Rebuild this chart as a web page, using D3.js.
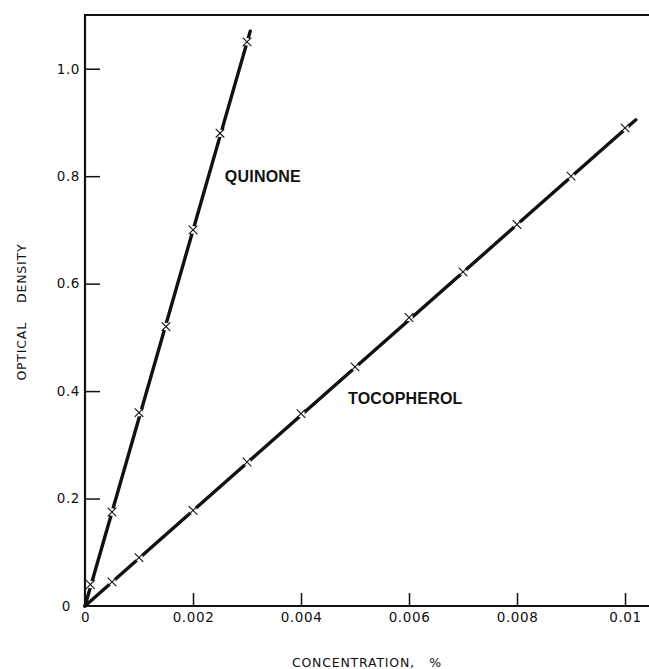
<!DOCTYPE html>
<html>
<head>
<meta charset="utf-8">
<script src="https://cdn.jsdelivr.net/npm/d3@7"></script>
<style>
  body { margin: 0; background: #fff; }
  svg { display: block; font-family: "DejaVu Sans", sans-serif; }
  .tick text { font-family: "DejaVu Sans", sans-serif; font-size: 13.5px; fill: #111; letter-spacing: 0.6px; }
  .curve-label { font-family: "Liberation Sans", sans-serif; font-size: 16px; font-weight: bold; fill: #111; letter-spacing: 0.2px; }
  .axis-title { font-family: "DejaVu Sans", sans-serif; font-size: 12.5px; fill: #111; letter-spacing: 0.8px; }
</style>
</head>
<body>
<script>
// data
const quinoneX = [0.0001, 0.0005, 0.001, 0.0015, 0.002, 0.0025, 0.003];
const quinoneY = [0.04, 0.175, 0.36, 0.52, 0.70, 0.88, 1.05];
const tocoX = [0.0005, 0.001, 0.002, 0.003, 0.004, 0.005, 0.006, 0.007, 0.008, 0.009, 0.01];
const tocoY = [0.045, 0.09, 0.178, 0.268, 0.358, 0.445, 0.537, 0.622, 0.71, 0.80, 0.89];
// drawn fit lines (start / end)
const quinoneFit = [[0, 0], [0.00306, 1.07]];
const tocoFit = [[0, 0], [0.0102, 0.905]];

const xTicks = [0, 0.002, 0.004, 0.006, 0.008, 0.01];
const xTickLabels = ["0", "0.002", "0.004", "0.006", "0.008", "0.01"];
const yTicks = [0, 0.2, 0.4, 0.6, 0.8, 1.0];
const yTickLabels = ["0", "0.2", "0.4", "0.6", "0.8", "1.0"];

let margin = {top: 15, left: 85, bottom: 63, right: 0};
let width = 649 - margin.left - margin.right;
let height = 669 - margin.top - margin.bottom;

let svg = d3.select("body").append("svg")
  .attr("width", 649)
  .attr("height", 669)
  .append("g")
  .attr("transform", `translate(${margin.left}, ${margin.top})`);

let x = d3.scaleLinear().domain([0, 0.010444]).range([0, width]);
let y = d3.scaleLinear().domain([0, 1.1]).range([height, 0]);

// frame: left, top, bottom (right side is open)
svg.append("path")
  .attr("d", `M${width},0H0V${height}H${width}`)
  .attr("fill", "none")
  .attr("stroke", "#111")
  .attr("stroke-width", 2.2);

// axes with inward ticks
let xAxis = svg.append("g")
  .attr("transform", `translate(0, ${height})`)
  .call(d3.axisBottom(x)
    .tickValues(xTicks)
    .tickSize(-13)
    .tickPadding(6)
    .tickFormat((d, i) => xTickLabels[i]));
xAxis.select(".domain").remove();
xAxis.selectAll(".tick line").attr("stroke", "#111").attr("stroke-width", 1.5);

let yAxis = svg.append("g")
  .call(d3.axisLeft(y)
    .tickValues(yTicks)
    .tickSize(-15)
    .tickPadding(5)
    .tickFormat((d, i) => yTickLabels[i]));
yAxis.select(".domain").remove();
yAxis.selectAll(".tick line").attr("stroke", "#111").attr("stroke-width", 1.5);
yAxis.selectAll(".tick").filter(d => d === 0).select("line").remove();
xAxis.selectAll(".tick").filter(d => d === 0).select("line").remove();
yAxis.selectAll(".tick").filter(d => d === 0).select("text").attr("x", -14);

// fit lines
let line = d3.line().x(d => x(d[0])).y(d => y(d[1]));
[quinoneFit, tocoFit].forEach(fit => {
  svg.append("path")
    .datum(fit)
    .attr("d", line)
    .attr("fill", "none")
    .attr("stroke", "#111")
    .attr("stroke-width", 3.4)
    .attr("stroke-linecap", "round");
});

// points: white gap + small x marker
function appendPoints(xs, ys) {
  let pts = xs.map((v, i) => [v, ys[i]]);
  let g = svg.append("g");
  g.selectAll("circle")
    .data(pts)
    .enter().append("circle")
    .attr("cx", d => x(d[0]))
    .attr("cy", d => y(d[1]))
    .attr("r", 3.8)
    .attr("fill", "#fff");
  g.selectAll("path")
    .data(pts)
    .enter().append("path")
    .attr("d", d => {
      let cx = x(d[0]), cy = y(d[1]), s = 4.3;
      return `M${cx - s},${cy - s}L${cx + s},${cy + s}M${cx - s},${cy + s}L${cx + s},${cy - s}`;
    })
    .attr("stroke", "#111")
    .attr("stroke-width", 1.1);
}
appendPoints(quinoneX, quinoneY);
appendPoints(tocoX, tocoY);

// curve labels
svg.append("text").attr("class", "curve-label")
  .attr("x", x(0.00259)).attr("y", y(0.789))
  .text("QUINONE");
svg.append("text").attr("class", "curve-label")
  .attr("x", x(0.00487)).attr("y", y(0.376))
  .text("TOCOPHEROL");

// axis titles
svg.append("text").attr("class", "axis-title")
  .attr("x", x(0.00522)).attr("y", height + 61)
  .attr("text-anchor", "middle")
  .attr("xml:space", "preserve")
  .text("CONCENTRATION,   %");
svg.append("text").attr("class", "axis-title")
  .attr("transform", `translate(${-margin.left + 26}, ${y(0.547)}) rotate(-90)`)
  .attr("text-anchor", "middle")
  .attr("xml:space", "preserve")
  .text("OPTICAL    DENSITY");
</script>
</body>
</html>
